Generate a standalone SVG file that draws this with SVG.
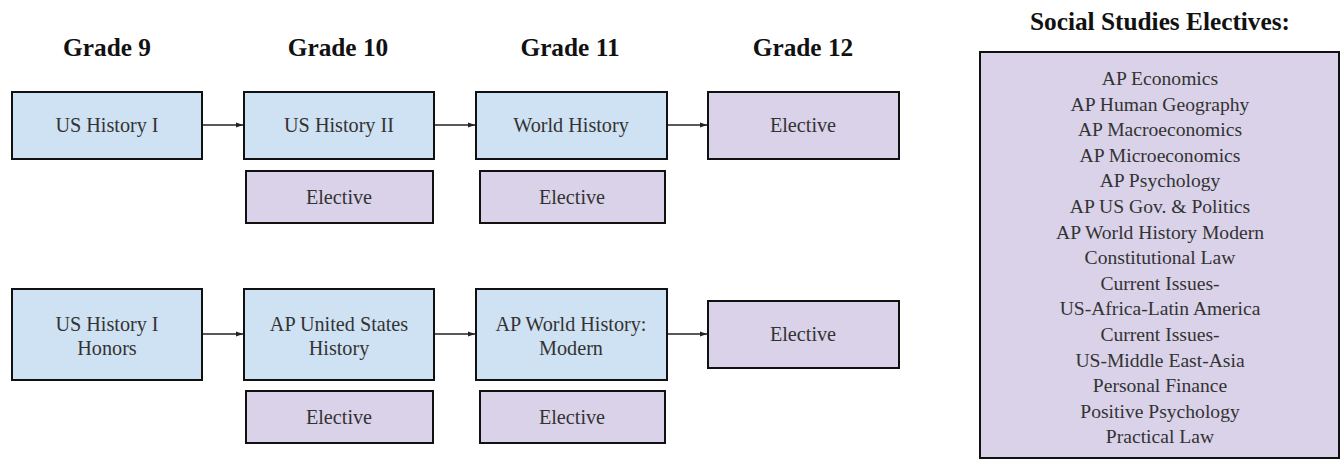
<svg xmlns="http://www.w3.org/2000/svg" width="1341" height="460" viewBox="0 0 1341 460">
<style>
  .hd{font-family:'Liberation Serif','Times New Roman',serif;font-weight:bold;font-size:25.3px;fill:#111;text-anchor:middle}
  .t{font-family:'Liberation Serif','Times New Roman',serif;font-size:20.2px;fill:#333;text-anchor:middle}
  .l{font-family:'Liberation Serif','Times New Roman',serif;font-size:19.6px;fill:#333;text-anchor:middle}
  .blue{fill:#cfe2f3;stroke:#111;stroke-width:2}
  .purple{fill:#d9d2e9;stroke:#111;stroke-width:2}
  .conn{stroke:#222;stroke-width:1.3;fill:none}
</style>
<defs>
  <marker id="ah" markerWidth="8" markerHeight="8" refX="7" refY="4" orient="auto" markerUnits="userSpaceOnUse">
    <path d="M0,1.5 L7,4 L0,6.5 Z" fill="#222"/>
  </marker>
</defs>
<rect width="1341" height="460" fill="#fff"/>
<g id="headings">
  <text class="hd" x="107" y="56">Grade 9</text>
  <text class="hd" x="338" y="56">Grade 10</text>
  <text class="hd" x="570" y="56">Grade 11</text>
  <text class="hd" x="803" y="56">Grade 12</text>
  <text class="hd" x="1160" y="30">Social Studies Electives:</text>
</g>
<g id="connectors">
  <line class="conn" x1="202" y1="125" x2="243" y2="125" marker-end="url(#ah)"/>
  <line class="conn" x1="434" y1="125" x2="475" y2="125" marker-end="url(#ah)"/>
  <line class="conn" x1="667" y1="125" x2="707" y2="125" marker-end="url(#ah)"/>
  <line class="conn" x1="202" y1="334" x2="243" y2="334" marker-end="url(#ah)"/>
  <line class="conn" x1="434" y1="334" x2="475" y2="334" marker-end="url(#ah)"/>
  <line class="conn" x1="667" y1="334" x2="707" y2="334" marker-end="url(#ah)"/>
</g>
<g id="us-history-1">
  <rect class="blue" x="12" y="92" width="190" height="67"/>
  <text class="t" x="107" y="132">US History I</text>
</g>
<g id="us-history-2">
  <rect class="blue" x="244" y="92" width="190" height="67"/>
  <text class="t" x="339" y="132">US History II</text>
</g>
<g id="world-history">
  <rect class="blue" x="476" y="92" width="191" height="67"/>
  <text class="t" x="571" y="132">World History</text>
</g>
<g id="elective-12a">
  <rect class="purple" x="708" y="92" width="191" height="67"/>
  <text class="t" x="803" y="132">Elective</text>
</g>
<g id="elective-10a">
  <rect class="purple" x="246" y="171" width="187" height="52"/>
  <text class="t" x="339" y="204">Elective</text>
</g>
<g id="elective-11a">
  <rect class="purple" x="480" y="171" width="185" height="52"/>
  <text class="t" x="572" y="204">Elective</text>
</g>
<g id="us-history-1-honors">
  <rect class="blue" x="12" y="289" width="190" height="91"/>
  <text class="t" x="107" y="331">US History I</text>
  <text class="t" x="107" y="355">Honors</text>
</g>
<g id="apush">
  <rect class="blue" x="244" y="289" width="190" height="91"/>
  <text class="t" x="339" y="331">AP United States</text>
  <text class="t" x="339" y="355">History</text>
</g>
<g id="ap-world">
  <rect class="blue" x="476" y="289" width="191" height="91"/>
  <text class="t" x="571" y="331">AP World History:</text>
  <text class="t" x="571" y="355">Modern</text>
</g>
<g id="elective-12b">
  <rect class="purple" x="708" y="301" width="191" height="67"/>
  <text class="t" x="803" y="341">Elective</text>
</g>
<g id="elective-10b">
  <rect class="purple" x="246" y="391" width="187" height="52"/>
  <text class="t" x="339" y="424">Elective</text>
</g>
<g id="elective-11b">
  <rect class="purple" x="480" y="391" width="185" height="52"/>
  <text class="t" x="572" y="424">Elective</text>
</g>
<g id="electives-list">
  <rect class="purple" x="980" y="52" width="359" height="406"/>
  <text class="l" x="1160" y="85">AP Economics</text>
  <text class="l" x="1160" y="110.6">AP Human Geography</text>
  <text class="l" x="1160" y="136.2">AP Macroeconomics</text>
  <text class="l" x="1160" y="161.8">AP Microeconomics</text>
  <text class="l" x="1160" y="187.4">AP Psychology</text>
  <text class="l" x="1160" y="213">AP US Gov. &amp; Politics</text>
  <text class="l" x="1160" y="238.6">AP World History Modern</text>
  <text class="l" x="1160" y="264.2">Constitutional Law</text>
  <text class="l" x="1160" y="289.8">Current Issues-</text>
  <text class="l" x="1160" y="315.4">US-Africa-Latin America</text>
  <text class="l" x="1160" y="341">Current Issues-</text>
  <text class="l" x="1160" y="366.6">US-Middle East-Asia</text>
  <text class="l" x="1160" y="392.2">Personal Finance</text>
  <text class="l" x="1160" y="417.8">Positive Psychology</text>
  <text class="l" x="1160" y="443.4">Practical Law</text>
</g>
</svg>
